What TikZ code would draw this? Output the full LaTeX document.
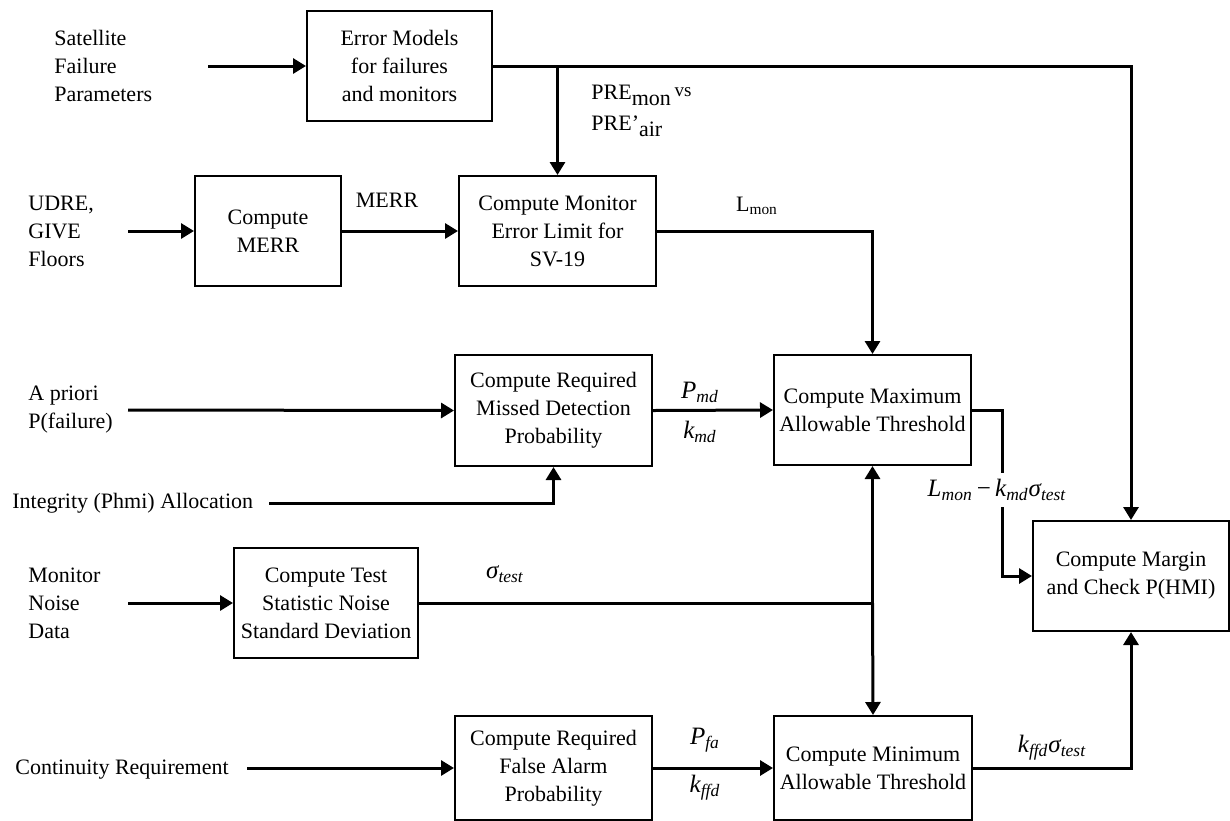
\documentclass[tikz,border=0pt]{standalone}
\usepackage{fontspec}
\setmainfont{Liberation Serif}
\usetikzlibrary{arrows.meta}
\begin{document}
\begin{tikzpicture}[x=0.5pt,y=-0.5pt,
  every node/.style={font=\fontsize{11}{14}\selectfont, inner sep=0pt},
  blk/.style={draw, line width=1pt, align=center, fill=white},
  inlbl/.style={anchor=west, align=left},
  mlbl/.style={font=\fontsize{12.5}{14}\selectfont},
  ln/.style={line width=1.5pt},
  arr/.style={line width=1.5pt, -{Triangle[length=6.5pt,width=7.5pt]}}
]
\useasboundingbox (0,0) rectangle (1230,820);

% blocks
\node[blk, minimum width=92.5pt, minimum height=55pt] (em) at (399.5,66) {Error Models\\for failures\\and monitors};
\node[blk, minimum width=73pt, minimum height=55pt] (merr) at (268,231) {Compute\\MERR};
\node[blk, minimum width=98.5pt, minimum height=55pt] (mon) at (557.5,231) {Compute Monitor\\Error Limit for\\SV-19};
\node[blk, minimum width=98.5pt, minimum height=55.5pt] (pmd) at (553.5,410.5) {Compute Required\\Missed Detection\\Probability};
\node[blk, minimum width=98.5pt, minimum height=55pt] (max) at (872.5,410) {Compute Maximum\\Allowable Threshold};
\node[blk, minimum width=92pt, minimum height=55pt] (sig) at (326,603) {Compute Test\\Statistic Noise\\Standard Deviation};
\node[blk, minimum width=98pt, minimum height=55pt] (mar) at (1131,576) {Compute Margin\\and Check P(HMI)};
\node[blk, minimum width=98.5pt, minimum height=52pt] (pfa) at (553.5,768) {Compute Required\\False Alarm\\Probability};
\node[blk, minimum width=99pt, minimum height=52pt] (min) at (873,768) {Compute Minimum\\Allowable Threshold};

% input labels
\node[inlbl] (sat) at (54,66) {Satellite\\Failure\\Parameters};
\node[inlbl] (udre) at (28,231) {UDRE,\\GIVE\\Floors};
\node[inlbl] (apr) at (28,410) {A priori\\P(failure)};
\node[inlbl] (integ) at (12,503) {Integrity (Phmi) Allocation};
\node[inlbl] (noise) at (28,603) {Monitor\\Noise\\Data};
\node[inlbl] (cont) at (15,770) {Continuity Requirement};

% free ends of input connectors
\coordinate (satin) at (208,66);
\coordinate (udrein) at (128,231);
\coordinate (aprin) at (128,410);
\coordinate (integin) at (269,503);
\coordinate (noisein) at (128,603);
\coordinate (contin) at (247,768);
\coordinate (mturn) at (1002,410);

% connectors
\draw[arr] (satin) -- (em.west);
\draw[arr] (em.east) -| (mar.north);
\draw[arr] (em.east -| mon.north) -- (mon.north);
\draw[arr] (udrein) -- (merr.west);
\draw[arr] (merr.east) -- (mon.west);
\draw[arr] (mon.east) -| (max.north);
\draw[arr] (aprin) -- (pmd.west);
\draw[arr] (integin) -| (pmd.south);
\draw[arr] (pmd.east) -- (max.west);
\draw[arr] (max.east) -- (mturn) |- (mar.west);
\draw[arr] (noisein) -- (sig.west);
\draw[ln] (sig.east) -- (sig.east -| max.south);
\draw[arr] (sig.east -| max.south) -- (max.south);
\draw[arr] (sig.east -| max.south) -- (min.north);
\draw[arr] (contin) -- (pfa.west);
\draw[arr] (pfa.east) -- (min.west);
\draw[arr] (min.east) -| (mar.south);

% connector labels
\node[anchor=north west, align=left] (pre) at (591,85) {PRE\raisebox{-0.55ex}{mon}\,\raisebox{0.35ex}{\fontsize{9.5}{10}\selectfont vs}\\[1.5pt]PRE’\raisebox{-0.55ex}{air}};
\node (merrl) at (387,200) {MERR};
\node (lmon) at (757,206) {L\textsubscript{mon}};
\node[mlbl] (pmdl) at (700,392) {\itshape P\textsubscript{md}};
\node[mlbl] (kmdl) at (700,432) {\itshape k\textsubscript{md}};
\node[mlbl, fill=white, inner ysep=3pt] (lk) at (997,490) {\itshape L\textsubscript{mon}\,\upshape−\,\itshape k\textsubscript{md}σ\textsubscript{test}};
\node[mlbl] (sigl) at (505,574) {\itshape σ\textsubscript{test}};
\node[mlbl] (pfal) at (705,740) {\itshape P\textsubscript{fa}};
\node[mlbl] (kffdl) at (705,788) {\itshape k\textsubscript{ffd}};
\node[mlbl] (ksl) at (1052,748) {\itshape k\textsubscript{ffd}σ\textsubscript{test}};
\end{tikzpicture}
\end{document}
